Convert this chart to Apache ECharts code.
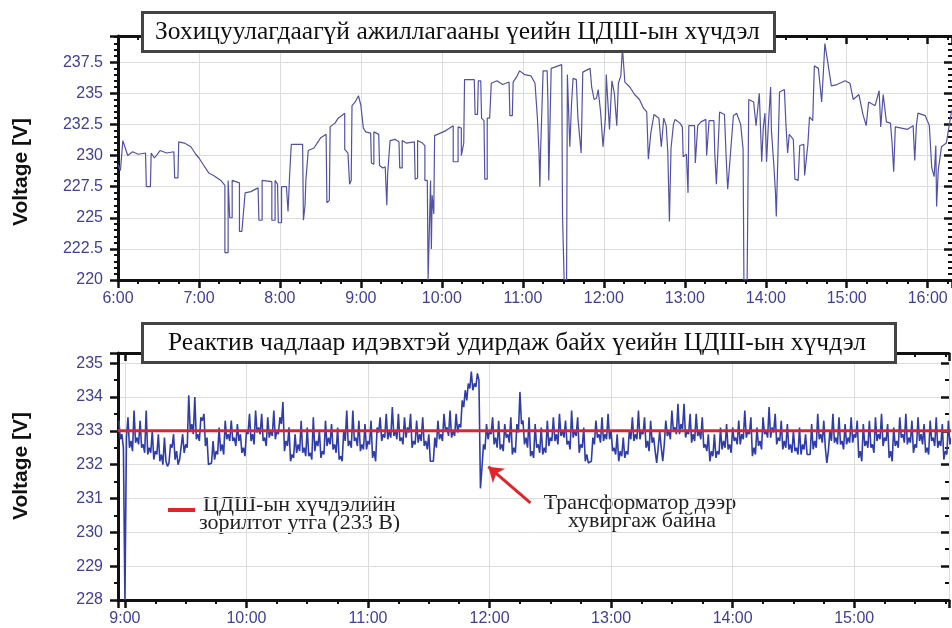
<!DOCTYPE html>
<html>
<head>
<meta charset="utf-8">
<title>ЦДШ-ын хүчдэл</title>
<script src="https://cdn.jsdelivr.net/npm/echarts@6.0.0/dist/echarts.min.js"></script>
<style>
  html, body { margin: 0; padding: 0; background: #fff; }
  #chart { width: 952px; height: 628px; }
</style>
</head>
<body>
<div id="chart"></div>
<script>
// --- дээд график: зохицуулалтгүй үе (цаг, хүчдэл) ---
const tTop = [
  6.00, 6.03, 6.06, 6.09, 6.12, 6.18, 6.25, 6.34, 6.35, 6.40,
  6.41, 6.45, 6.52, 6.60, 6.69, 6.70, 6.74, 6.75, 6.82, 6.90,
  6.96, 7.00, 7.05, 7.12, 7.18, 7.27, 7.32, 7.32, 7.36, 7.36,
  7.38, 7.38, 7.41, 7.41, 7.50, 7.50, 7.53, 7.57, 7.64, 7.73,
  7.74, 7.78, 7.78, 7.90, 7.90, 7.94, 7.94, 7.97, 7.98, 8.02,
  8.02, 8.08, 8.10, 8.12, 8.14, 8.28, 8.29, 8.31, 8.32, 8.35,
  8.42, 8.50, 8.57, 8.58, 8.61, 8.62, 8.68, 8.72, 8.80, 8.80,
  8.84, 8.86, 8.88, 8.89, 8.93, 8.97, 9.00, 9.03, 9.06, 9.12,
  9.13, 9.16, 9.16, 9.22, 9.23, 9.27, 9.30, 9.32, 9.33, 9.36,
  9.42, 9.47, 9.48, 9.51, 9.51, 9.56, 9.66, 9.67, 9.70, 9.70,
  9.76, 9.79, 9.79, 9.82, 9.83, 9.85, 9.86, 9.87, 9.88, 9.90,
  9.91, 9.98, 10.05, 10.14, 10.14, 10.20, 10.20, 10.24, 10.24, 10.27,
  10.28, 10.40, 10.41, 10.44, 10.45, 10.48, 10.49, 10.52, 10.53, 10.56,
  10.56, 10.59, 10.61, 10.68, 10.75, 10.83, 10.84, 10.87, 10.88, 10.93,
  10.96, 11.02, 11.10, 11.15, 11.18, 11.20, 11.21, 11.22, 11.25, 11.30,
  11.31, 11.32, 11.34, 11.35, 11.48, 11.49, 11.50, 11.51, 11.54, 11.55,
  11.57, 11.58, 11.60, 11.62, 11.66, 11.68, 11.72, 11.74, 11.83, 11.85,
  11.88, 11.91, 11.93, 11.96, 11.99, 12.02, 12.03, 12.07, 12.10, 12.13,
  12.16, 12.18, 12.21, 12.23, 12.26, 12.32, 12.38, 12.44, 12.49, 12.53,
  12.55, 12.58, 12.62, 12.68, 12.71, 12.74, 12.77, 12.79, 12.81, 12.83,
  12.86, 12.88, 12.94, 12.97, 12.98, 13.02, 13.04, 13.05, 13.12, 13.13,
  13.15, 13.16, 13.20, 13.26, 13.27, 13.29, 13.30, 13.36, 13.37, 13.39,
  13.41, 13.43, 13.49, 13.51, 13.53, 13.56, 13.60, 13.64, 13.69, 13.72,
  13.73, 13.77, 13.79, 13.85, 13.88, 13.92, 13.95, 13.97, 13.99, 14.01,
  14.03, 14.06, 14.07, 14.10, 14.12, 14.13, 14.15, 14.17, 14.23, 14.25,
  14.27, 14.29, 14.34, 14.36, 14.40, 14.42, 14.47, 14.48, 14.52, 14.54,
  14.58, 14.60, 14.65, 14.69, 14.71, 14.73, 14.77, 14.81, 14.88, 14.98,
  15.04, 15.08, 15.15, 15.20, 15.24, 15.27, 15.35, 15.40, 15.42, 15.45,
  15.49, 15.54, 15.56, 15.58, 15.60, 15.75, 15.82, 15.84, 15.86, 15.88,
  15.97, 16.02, 16.05, 16.08, 16.10, 16.11, 16.13, 16.17, 16.23, 16.29,
  16.32
];
const vTop = [
  229.3, 228.8, 231.2, 230.6, 230.0, 230.3, 230.1, 230.2, 227.5, 227.5,
  230.2, 229.8, 230.4, 230.2, 230.3, 228.2, 228.2, 231.1, 231.0, 230.7,
  230.1, 229.8, 229.3, 228.6, 228.4, 228.0, 227.6, 222.2, 222.2, 228.0,
  228.0, 225.0, 225.0, 228.0, 227.8, 223.9, 223.9, 227.0, 227.1, 227.4,
  224.8, 224.8, 228.0, 227.9, 224.8, 224.8, 228.0, 227.7, 224.6, 224.6,
  227.5, 227.5, 225.5, 228.5, 230.9, 230.9, 224.8, 226.0, 228.0, 230.4,
  230.6, 231.4, 231.7, 226.2, 226.4, 232.3, 232.6, 233.0, 233.4, 230.5,
  230.2, 227.7, 228.0, 234.0, 234.3, 234.8, 234.0, 232.2, 231.9, 231.8,
  229.4, 229.3, 231.9, 231.7, 229.2, 229.0, 229.1, 226.0, 228.5, 231.2,
  231.3, 231.1, 229.0, 229.0, 231.2, 231.0, 231.1, 228.1, 228.2, 231.2,
  231.0, 230.8, 228.0, 228.0, 220.0, 220.0, 228.0, 222.5, 226.8, 225.3,
  231.6, 231.8, 232.0, 232.4, 229.5, 229.5, 232.3, 232.2, 230.0, 231.0,
  236.1, 236.1, 233.3, 233.3, 236.0, 236.0, 233.0, 232.8, 228.1, 228.1,
  233.0, 233.0, 235.8, 236.0, 235.7, 235.9, 233.2, 233.2, 235.9, 236.4,
  236.8, 236.5, 236.4, 235.8, 233.0, 230.2, 227.5, 230.5, 236.8, 236.8,
  234.2, 228.0, 228.0, 237.0, 237.3, 225.1, 225.1, 220.0, 220.0, 236.5,
  236.4, 230.7, 234.0, 236.2, 236.1, 233.0, 230.2, 236.7, 237.0, 235.5,
  234.5, 234.6, 235.3, 233.5, 230.7, 233.0, 236.5, 232.1, 236.0, 235.0,
  232.4, 235.8, 236.4, 238.6, 235.9, 235.5, 234.9, 234.5, 233.8, 233.5,
  229.7, 231.8, 233.3, 233.0, 230.7, 233.0, 232.4, 230.3, 224.7, 230.6,
  232.5, 232.9, 232.6, 232.3, 229.9, 230.1, 227.0, 232.4, 232.4, 229.4,
  229.4, 232.4, 232.7, 232.9, 230.0, 229.9, 232.8, 232.8, 230.2, 227.7,
  230.5, 233.5, 233.3, 230.0, 227.3, 229.8, 233.2, 233.4, 232.5, 230.5,
  220.0, 220.0, 234.5, 234.3, 232.4, 235.0, 229.5, 232.3, 233.4, 229.5,
  232.2, 235.5, 232.0, 229.2, 227.0, 225.1, 230.0, 235.1, 235.3, 232.4,
  230.2, 231.7, 231.3, 228.1, 228.0, 230.8, 230.9, 228.4, 230.9, 233.1,
  232.8, 237.2, 237.0, 234.3, 236.5, 239.0, 237.3, 235.6, 235.7, 236.0,
  235.8, 234.5, 234.9, 233.3, 232.4, 234.3, 234.0, 235.2, 232.3, 234.9,
  232.7, 232.6, 231.0, 228.7, 232.3, 232.1, 232.4, 229.6, 232.4, 233.4,
  233.2, 232.4, 229.0, 228.3, 230.8, 225.9, 228.8, 230.7, 231.0, 233.4,
  234.0
];

// --- доод график: реактив чадлаар удирдах үе ---
// 1.5 минут тутмын оргил уншилт (vBotA) ба тэдгээрийн хоорондох доод уншилт (vBotB)
const botStart = 8.95;
const botStep = 0.025;
const vBotA = [
  233.3, 232.9, 228.0, 233.4, 232.7, 233.6, 232.8, 233.3, 232.6, 233.6,
  232.5, 233.0, 232.4, 232.9, 232.3, 232.8, 231.95, 232.6, 232.9, 232.4,
  232.15, 232.9, 232.6, 234.05, 233.2, 234.0, 232.9, 233.4, 233.5, 232.8,
  231.95, 232.7, 232.4, 233.1, 232.6, 233.3, 232.9, 233.3, 232.8, 233.2,
  232.9, 232.5, 233.0, 233.5, 232.9, 233.6, 233.1, 233.5, 232.8, 233.4,
  233.0, 233.6, 233.0, 233.4, 233.85, 232.7, 233.1, 232.3, 232.9, 232.6,
  233.3, 232.5, 233.1, 232.35, 233.4, 232.7, 233.0, 232.4, 233.3, 232.8,
  233.2, 232.6, 233.1, 232.25, 233.0, 233.6, 232.7, 233.6, 232.8, 233.3,
  232.6, 233.2, 232.7, 233.3, 232.4, 233.1, 233.4, 232.9, 233.5, 233.0,
  233.7, 233.0, 233.5, 232.8, 233.4, 233.1, 233.5, 232.7, 233.3, 232.9,
  233.4, 232.7, 232.9, 232.05, 232.8, 233.3, 232.9, 233.5, 233.1, 233.6,
  233.0, 233.5, 233.2, 233.9, 234.2, 234.4, 234.75, 234.4, 234.7, 231.3,
  232.6, 233.2, 233.0, 233.4, 232.8, 233.3, 232.6, 233.2, 232.9, 233.4,
  232.5, 233.2, 234.15, 233.3, 232.8, 233.4, 232.4, 233.2, 232.6, 233.1,
  232.5, 233.3, 232.8, 233.4, 232.9, 233.5, 233.0, 233.3, 232.7, 233.6,
  233.0, 233.4, 232.6, 233.1, 232.3, 232.0, 232.8, 233.3, 232.9, 233.4,
  232.9, 233.5, 233.0, 232.5, 232.9, 232.4, 232.8, 232.4, 233.0, 233.4,
  232.9, 233.6, 233.0, 233.4, 232.7, 233.3, 232.8, 232.05, 233.0, 232.1,
  233.3, 233.0, 233.6, 233.1, 233.8, 233.2, 233.8, 233.0, 233.5, 232.9,
  233.5, 233.0, 233.4, 232.6, 232.9, 232.4, 232.9, 232.4, 233.1, 232.7,
  233.2, 232.6, 233.1, 232.8, 233.3, 232.9, 233.6, 233.0, 233.4, 232.5,
  233.1, 232.7, 233.4, 233.0, 233.7, 233.1, 233.5, 232.8, 233.3, 232.7,
  233.2, 232.6, 233.0, 232.5, 233.1, 232.6, 232.9, 232.25, 233.2, 232.7,
  233.5, 232.9, 233.3, 232.05, 233.0, 233.5, 232.8, 233.4, 232.7, 233.2,
  232.8, 233.4, 232.9, 233.3, 232.4, 233.2, 232.7, 233.3, 232.6, 233.4,
  232.9, 233.5, 232.8, 233.2, 232.4, 233.1, 232.7, 233.4, 232.9, 233.5,
  232.8, 233.3, 232.6, 233.4, 232.9, 233.2, 232.5, 233.3, 232.8, 233.4,
  232.7, 233.2, 232.4, 233.3, 232.8
];
const vBotB = [
  232.75, 232.5, 232.8, 232.5, 232.4, 232.65, 232.6, 232.5, 232.35, 232.3,
  232.35, 232.15, 232.3, 232.1, 232.0, 232.1, 232.05, 232.5, 232.15, 232.0,
  232.1, 232.35, 232.5, 233.0, 232.9, 232.75, 232.7, 233.3, 232.55, 232.0,
  232.05, 232.15, 232.3, 232.4, 232.3, 232.75, 232.7, 232.7, 232.55, 232.7,
  232.35, 232.25, 232.9, 232.7, 232.6, 232.95, 232.9, 232.7, 232.55, 232.8,
  232.85, 232.75, 232.9, 233.2, 232.4, 232.55, 232.1, 232.2, 232.35, 232.4,
  232.35, 232.25, 232.25, 232.15, 232.4, 232.55, 232.2, 232.3, 232.55, 232.6,
  232.45, 232.35, 232.15, 232.1, 232.7, 232.55, 232.5, 232.7, 232.55, 232.4,
  232.45, 232.45, 232.6, 232.2, 232.1, 232.95, 232.7, 232.8, 232.75, 232.8,
  232.85, 232.75, 232.7, 232.6, 232.8, 232.95, 232.5, 232.6, 232.65, 232.7,
  232.55, 232.45, 232.1, 232.1, 232.5, 232.75, 232.7, 233.0, 232.85, 232.8,
  232.85, 232.95, 233.1, 233.7, 233.9, 234.25, 234.2, 234.3, 234.5, 231.9,
  232.45, 232.75, 232.9, 232.6, 232.5, 232.45, 232.4, 232.8, 232.65, 232.3,
  232.35, 232.95, 233.2, 232.6, 232.5, 232.25, 232.2, 232.5, 232.35, 232.3,
  232.35, 232.55, 232.7, 232.7, 232.6, 232.85, 232.8, 232.6, 232.45, 232.8,
  232.85, 232.35, 232.5, 232.1, 232.05, 232.1, 232.6, 232.8, 232.65, 232.7,
  232.75, 232.75, 232.4, 232.3, 232.1, 232.25, 232.2, 232.3, 232.75, 232.7,
  232.75, 232.75, 232.9, 232.5, 232.4, 232.65, 232.4, 232.5, 232.5, 232.6,
  232.85, 232.75, 233.0, 232.9, 232.9, 233.05, 232.8, 232.9, 232.65, 232.7,
  232.85, 232.75, 232.5, 232.4, 232.1, 232.25, 232.2, 232.3, 232.45, 232.5,
  232.45, 232.35, 232.7, 232.6, 232.6, 232.75, 232.8, 232.9, 232.25, 232.3,
  232.55, 232.45, 232.9, 232.8, 232.8, 232.95, 232.6, 232.7, 232.45, 232.5,
  232.45, 232.35, 232.4, 232.3, 232.3, 232.45, 232.3, 232.3, 232.45, 232.5,
  232.75, 232.65, 232.5, 232.4, 232.7, 232.65, 232.6, 232.6, 232.45, 232.6,
  232.65, 232.65, 232.8, 232.2, 232.1, 232.55, 232.5, 232.5, 232.35, 232.7,
  232.75, 232.55, 232.7, 232.2, 232.1, 232.55, 232.5, 232.8, 232.65, 232.6,
  232.65, 232.35, 232.5, 232.7, 232.6, 232.35, 232.3, 232.7, 232.55, 232.5,
  232.55, 232.15, 232.3, 232.6, 232.6
];

// зорилтот утга
const targetV = 233;
const targetSpan = [8.94, 15.8];

const titleTop = 'Зохицуулагдаагүй ажиллагааны үеийн ЦДШ-ын хүчдэл';
const titleBot = 'Реактив чадлаар идэвхтэй удирдаж байх үеийн ЦДШ-ын хүчдэл';

const topData = tTop.map((t, i) => [t, vTop[i]]);
const botData = [];
vBotA.forEach((v, i) => {
  const t = botStart + i * botStep;
  botData.push([t, v]);
  botData.push([t + botStep / 2, vBotB[i]]);
});
const targetData = targetSpan.map(t => [t, targetV]);

const chart = echarts.init(document.getElementById('chart'));

const ink = '#111';
const red = '#e3232c';
const labelStyle = { color: '#40409a', fontSize: 16, fontFamily: 'Liberation Sans' };

function hourLabel(v) {
  return Math.abs(v - Math.round(v)) < 1e-6 ? Math.round(v) + ':00' : '';
}

// үндсэн тэнхлэг (гадна шижим) + давхар тэнхлэг (дотор шижим) = загалмай шижим
function mainAxis(extra) {
  return Object.assign({
    type: 'value',
    axisLine: { show: true, lineStyle: { color: ink, width: 3 } },
    axisTick: { show: true, length: 8, lineStyle: { color: ink, width: 2.5 } },
    splitLine: { show: true, lineStyle: { color: '#dddddd', width: 1 } },
    minorSplitLine: { show: false }
  }, extra);
}
function innerAxis(extra) {
  return Object.assign({
    type: 'value',
    axisLine: { show: false },
    axisTick: { show: true, inside: true, length: 8, lineStyle: { color: ink, width: 2.5 } },
    axisLabel: { show: false },
    splitLine: { show: false }
  }, extra);
}
function borderAxis(extra) {
  return Object.assign({
    type: 'value',
    position: 'top',
    axisLine: { show: true, lineStyle: { color: ink, width: 3 } },
    axisTick: { show: false },
    axisLabel: { show: false },
    splitLine: { show: false }
  }, extra);
}
function minor(n) {
  return { show: true, splitNumber: n, length: 4, lineStyle: { color: ink, width: 2 } };
}

const xTop = { gridIndex: 0, min: 6, max: 16.3, interval: 1, minorTick: minor(4) };
const xBot = { gridIndex: 1, min: 8.943, max: 15.78, splitNumber: 7, minorTick: minor(4) };
const yTop = { gridIndex: 0, min: 220, max: 239.6, interval: 2.5, minorTick: minor(5) };
const yBot = { gridIndex: 1, min: 228, max: 235.3, interval: 1, minorTick: minor(2) };

const titleText = { fontFamily: 'Liberation Serif', fontSize: 25.5, fontWeight: 'normal', color: '#111' };
const noteFont = '22px "Liberation Serif"';

const option = {
  animation: false,
  backgroundColor: '#fff',
  title: [
    {
      text: titleTop, left: 142, top: 12,
      padding: [7, 15, 7, 13],
      backgroundColor: '#fff', borderColor: '#444', borderWidth: 3,
      textStyle: titleText
    },
    {
      text: titleBot, left: 142, top: 323,
      padding: [7, 30, 7, 26],
      backgroundColor: '#fff', borderColor: '#444', borderWidth: 3,
      textStyle: titleText
    }
  ],
  grid: [
    { left: 118, top: 36, right: 0, height: 244 },
    { left: 118, top: 353, right: 0, height: 247 }
  ],
  xAxis: [
    mainAxis(Object.assign({}, xTop, { axisLabel: Object.assign({}, labelStyle, { margin: 11, formatter: hourLabel, showMaxLabel: false }) })),
    innerAxis(Object.assign({}, xTop)),
    borderAxis({ gridIndex: 0, min: 6, max: 16.3 }),
    mainAxis(Object.assign({}, xBot, { axisLabel: Object.assign({}, labelStyle, { margin: 11, formatter: hourLabel }) })),
    innerAxis(Object.assign({}, xBot)),
    borderAxis({ gridIndex: 1, min: 8.943, max: 15.78 })
  ],
  yAxis: [
    mainAxis(Object.assign({}, yTop, { axisLabel: Object.assign({}, labelStyle, { margin: 15, showMaxLabel: false, formatter: v => (v > 239 ? '' : String(v)) }) })),
    innerAxis(Object.assign({}, yTop)),
    mainAxis(Object.assign({}, yBot, { axisLabel: Object.assign({}, labelStyle, { margin: 15, showMaxLabel: false, formatter: v => (v > 235.1 ? '' : String(v)) }) })),
    innerAxis(Object.assign({}, yBot))
  ],
  series: [
    {
      type: 'line', xAxisIndex: 0, yAxisIndex: 0,
      data: topData, showSymbol: false,
      lineStyle: { color: '#5252a4', width: 1.2 }
    },
    {
      type: 'line', xAxisIndex: 3, yAxisIndex: 2,
      data: botData, showSymbol: false,
      lineStyle: { color: '#2f3da8', width: 1.6 }
    },
    {
      name: 'ЦДШ-ын хүчдэлийн зорилтот утга (233 В)',
      type: 'line', xAxisIndex: 3, yAxisIndex: 2,
      data: targetData, showSymbol: false, z: 4,
      itemStyle: { color: red },
      lineStyle: { color: red, width: 3 },
      markLine: {
        silent: true,
        symbol: ['none', 'arrow'],
        symbolSize: 14,
        label: { show: false },
        lineStyle: { color: red, width: 3, type: 'solid' },
        data: [[{ coord: [12.336, 230.87] }, { coord: [11.99, 231.94] }]]
      }
    }
  ],
  graphic: [
    {
      type: 'text', x: 21, y: 172, rotation: Math.PI / 2,
      style: { text: 'Voltage [V]', font: 'bold 21px "Liberation Sans"', fill: '#111',
        align: 'center', verticalAlign: 'middle', textAlign: 'center', textVerticalAlign: 'middle' }
    },
    {
      type: 'text', x: 21, y: 466, rotation: Math.PI / 2,
      style: { text: 'Voltage [V]', font: 'bold 21px "Liberation Sans"', fill: '#111',
        align: 'center', verticalAlign: 'middle', textAlign: 'center', textVerticalAlign: 'middle' }
    },
    // тайлбар: зорилтот утга
    {
      type: 'line', shape: { x1: 168, y1: 510, x2: 195, y2: 510 },
      style: { stroke: red, lineWidth: 4 }
    },
    {
      type: 'text', x: 203, y: 505,
      style: { text: 'ЦДШ-ын хүчдэлийн', font: noteFont, fill: '#222',
        align: 'left', verticalAlign: 'middle', textAlign: 'left', textVerticalAlign: 'middle' }
    },
    {
      type: 'text', x: 199, y: 523,
      style: { text: 'зорилтот утга (233 В)', font: noteFont, fill: '#222',
        align: 'left', verticalAlign: 'middle', textAlign: 'left', textVerticalAlign: 'middle' }
    },
    // тайлбар: трансформатор
    {
      type: 'text', x: 640, y: 503,
      style: { text: 'Трансформатор дээр', font: noteFont, fill: '#222',
        align: 'center', verticalAlign: 'middle', textAlign: 'center', textVerticalAlign: 'middle' }
    },
    {
      type: 'text', x: 642, y: 521,
      style: { text: 'хувиргаж байна', font: noteFont, fill: '#222',
        align: 'center', verticalAlign: 'middle', textAlign: 'center', textVerticalAlign: 'middle' }
    }
  ]
};

chart.setOption(option);
</script>
</body>
</html>
